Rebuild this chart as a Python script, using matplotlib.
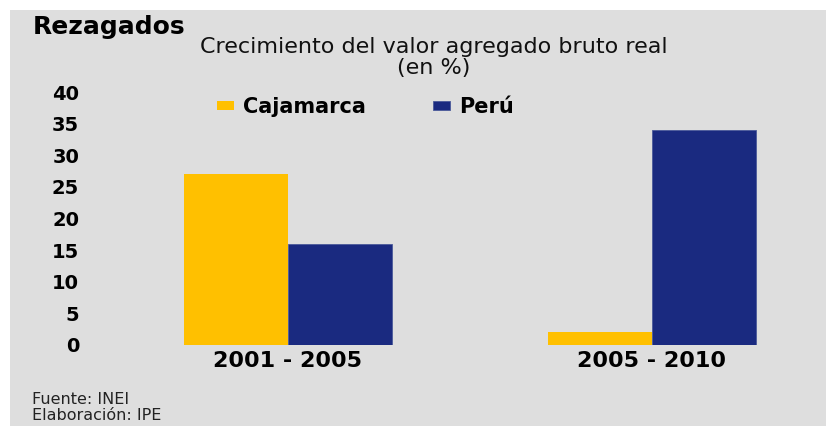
import matplotlib
matplotlib.use("Agg")
import matplotlib.pyplot as plt
from matplotlib.patches import Rectangle
import numpy as np

periodos = ["2001 - 2005", "2005 - 2010"]
cajamarca = [27, 2]
peru = [16, 34]
y_ticks = [0, 5, 10, 15, 20, 25, 30, 35, 40]

amarillo = "#FFC000"
azul = "#1A2A80"
fondo = "#DEDEDE"

W, H = 828, 426
fig = plt.figure(figsize=(W / 100, H / 100), dpi=100)
fig.patch.set_facecolor("white")
# panel gris (deja un borde blanco arriba y a la izquierda)
fig.patches.append(Rectangle((10 / W, 0), 816 / W, 416 / H, transform=fig.transFigure,
                             facecolor=fondo, edgecolor="none", zorder=-5))

ax = fig.add_axes([100 / W, (H - 345) / H, 720 / W, 253 / H])
ax.set_facecolor("none")

x = np.arange(len(periodos))
ancho = 104 / 364
ax.bar(x - ancho / 2, cajamarca, ancho, color=amarillo, label="Cajamarca")
ax.bar(x + ancho / 2, peru, ancho, color=azul, edgecolor="#4a5a9a", linewidth=0.6, label="Perú")

ax.set_xlim(-188 / 364, -188 / 364 + 720 / 364)
ax.set_ylim(0, 40)
ax.set_yticks(y_ticks)
ax.set_xticks(x)
ax.set_xticklabels(periodos)
for s in ax.spines.values():
    s.set_visible(False)
ax.tick_params(axis="y", length=0, pad=15, labelsize=14)
ax.tick_params(axis="x", length=0, pad=4, labelsize=16)
for lab in ax.get_yticklabels() + ax.get_xticklabels():
    lab.set_fontweight("bold")
    lab.set_fontfamily("DejaVu Sans")

leg = ax.legend(loc="center left", bbox_to_anchor=(207 / W, 1 - 107 / H),
                bbox_transform=fig.transFigure, ncol=2, frameon=False,
                borderpad=0, handlelength=0.8, handleheight=0.35,
                handletextpad=0.45, columnspacing=3.2,
                prop={"family": "DejaVu Sans", "weight": "bold", "size": 15})

fig.text(33 / W, 1 - 27 / H, "Rezagados", fontsize=18, fontweight="bold",
         family="DejaVu Sans", ha="left", va="center")
fig.text(434 / W, 1 - 47 / H, "Crecimiento del valor agregado bruto real",
         fontsize=16, family="DejaVu Sans", ha="center", va="center", color="#111111")
fig.text(434 / W, 1 - 68 / H, "(en %)", fontsize=16, family="DejaVu Sans",
         ha="center", va="center", color="#111111")

fig.text(32 / W, 1 - 399 / H, "Fuente: INEI", fontsize=11.5, family="DejaVu Sans",
         ha="left", va="center", color="#222222")
fig.text(32 / W, 1 - 415 / H, "Elaboración: IPE", fontsize=11.5, family="DejaVu Sans",
         ha="left", va="center", color="#222222")

fig.savefig("out.png", dpi=100, facecolor=fig.get_facecolor())
